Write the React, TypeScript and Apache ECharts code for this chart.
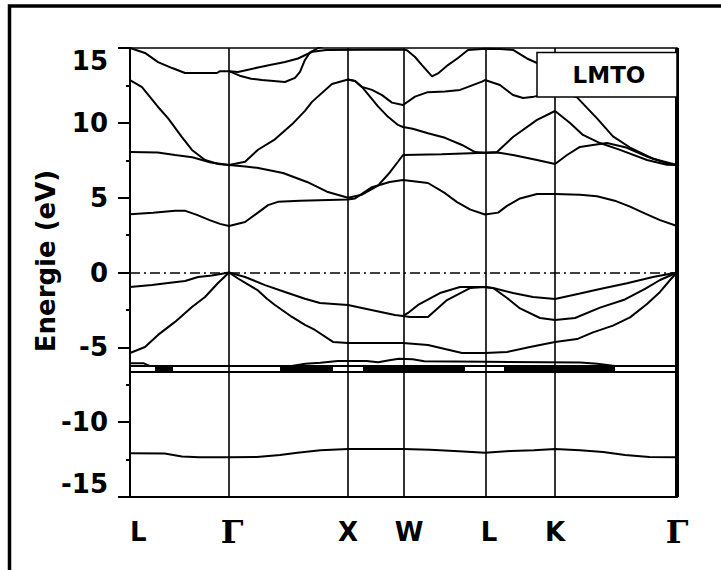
import { useEffect, useRef } from 'react';
import * as echarts from 'echarts';

// High-symmetry points along the path L–Γ–X–W–L–K–Γ (units of 2π/a)
const kPoints = [0, 0.858, 1.889, 2.366, 3.076, 3.683, 4.74];
const kLabels = ['L', 'Γ', 'X', 'W', 'L', 'K', 'Γ'];

// Energy axis ticks (eV)
const eMin = -15;
const eMax = 15;
const eStep = 5;

// Lowest (s-like) valence band
const bandS = [
  [0, -12.07], [0.3, -12.1], [0.45, -12.3], [0.6, -12.35], [0.858, -12.35], [1.1, -12.33],
  [1.3, -12.2], [1.45, -12.05], [1.65, -11.88], [1.889, -11.8], [2.366, -11.8], [2.6, -11.85],
  [2.85, -11.95], [3.076, -12.05], [3.3, -11.93], [3.5, -11.87], [3.683, -11.8], [3.9, -11.88],
  [4.1, -12.0], [4.29, -12.2], [4.5, -12.33], [4.74, -12.35],
];

// Narrow d-band manifold: upper and lower edges, upper band wiggles, filled stretches
const dUpper = [
  [0, -6.07], [0.12, -6.07], [0.17, -6.24], [1.4, -6.24], [1.52, -6.1], [1.65, -6.03],
  [1.8, -5.92], [2.05, -5.92], [2.15, -6.0], [2.26, -5.85], [2.33, -5.76], [2.45, -5.8],
  [2.55, -5.93], [3.076, -5.96], [3.9, -6.02], [4.05, -6.1], [4.2, -6.24], [4.74, -6.24],
];
const dTopEdge = [[0, -6.24], [4.74, -6.24]];
const dBottomEdge = [[0, -6.64], [4.74, -6.64]];
const dCenter = -6.44;
const dFilledRanges = [[0.217, 0.373], [1.3, 1.759], [2.019, 2.903], [3.241, 4.203]];

// Upper valence bands
const bandV3 = [
  [0, -5.38], [0.13, -4.98], [0.243, -4.17], [0.39, -3.3], [0.537, -2.3], [0.65, -1.64],
  [0.763, -0.7], [0.858, 0], [0.936, -0.4], [1.109, -1.2], [1.187, -1.75], [1.256, -2.17],
  [1.404, -2.97], [1.516, -3.5], [1.603, -3.84], [1.759, -4.64], [1.889, -4.71], [2.366, -4.71],
  [2.582, -4.84], [2.877, -5.38], [3.076, -5.38], [3.267, -5.31], [3.466, -4.98], [3.683, -4.64],
  [3.874, -4.45], [4.012, -4.0], [4.185, -3.55], [4.333, -3.0], [4.48, -2.1], [4.593, -1.3],
  [4.697, -0.35], [4.74, 0],
];
const bandV2 = [
  [0, -0.97], [0.19, -0.84], [0.33, -0.7], [0.477, -0.57], [0.59, -0.3], [0.71, -0.2],
  [0.858, 0], [0.997, -0.3], [1.17, -0.84], [1.343, -1.3], [1.516, -1.75], [1.646, -2.04],
  [1.889, -2.17], [2.01, -2.37], [2.296, -2.84], [2.366, -2.9], [2.426, -2.97], [2.582, -2.97],
  [2.747, -1.84], [2.946, -1.04], [3.076, -0.97], [3.15, -1.05], [3.267, -1.7], [3.38, -2.4],
  [3.553, -3.04], [3.683, -3.17], [3.856, -3.04], [4.073, -2.35], [4.289, -1.8], [4.463, -1.1],
  [4.593, -0.5], [4.74, 0],
];
const bandV1 = [
  [2.366, -2.9], [2.409, -2.7], [2.496, -2.17], [2.686, -1.37], [2.86, -0.97], [3.076, -0.97],
  [3.146, -1.04], [3.319, -1.37], [3.492, -1.64], [3.683, -1.77], [3.899, -1.4], [4.073, -1.1],
  [4.307, -0.72], [4.532, -0.3], [4.74, 0],
];

// Conduction bands
const bandC1 = [
  [0, 3.9], [0.2, 4.0], [0.39, 4.12], [0.48, 4.12], [0.58, 3.85], [0.69, 3.5], [0.78, 3.25],
  [0.858, 3.11], [0.997, 3.37], [1.109, 4.0], [1.196, 4.5], [1.282, 4.72], [1.473, 4.8],
  [1.889, 4.88], [1.95, 4.95], [2.097, 5.7], [2.25, 6.05], [2.366, 6.18], [2.582, 5.98],
  [2.73, 5.3], [2.834, 4.7], [2.95, 4.2], [3.076, 3.88], [3.19, 4.0], [3.267, 4.45], [3.38, 4.95],
  [3.527, 5.25], [3.683, 5.25], [3.9, 5.2], [4.047, 5.1], [4.2, 4.8], [4.333, 4.4], [4.46, 3.95],
  [4.593, 3.5], [4.74, 3.11],
];
const bandC2 = [
  [0, 8.05], [0.24, 8.02], [0.39, 7.85], [0.54, 7.7], [0.7, 7.35], [0.858, 7.18], [1.0, 7.08],
  [1.1, 7.0], [1.326, 6.65], [1.534, 6.05], [1.707, 5.4], [1.889, 5.0], [2.01, 5.2], [2.149, 5.8],
  [2.253, 6.7], [2.322, 7.4], [2.366, 7.85], [2.7, 7.9], [3.076, 8.0], [3.2, 8.0], [3.319, 7.85],
  [3.527, 7.52], [3.683, 7.25], [3.787, 7.85], [3.899, 8.39], [4.012, 8.52], [4.133, 8.65],
  [4.3, 8.35], [4.48, 7.75], [4.65, 7.3], [4.74, 7.18],
];
const bandC3 = [
  [0, 12.86], [0.104, 12.39], [0.243, 11.06], [0.329, 10.32], [0.45, 9.05], [0.537, 8.19],
  [0.65, 7.52], [0.763, 7.25], [0.858, 7.18], [0.997, 7.4], [1.109, 8.2], [1.256, 8.9],
  [1.404, 9.9], [1.516, 10.8], [1.577, 11.4], [1.75, 12.6], [1.889, 12.9], [1.95, 12.8],
  [2.01, 12.4], [2.097, 12.2], [2.184, 11.85], [2.27, 11.35], [2.366, 11.19], [2.47, 11.75],
  [2.58, 12.05], [2.73, 12.1], [2.86, 12.2], [2.93, 12.4], [3.05, 12.75], [3.076, 12.86],
  [3.206, 12.53], [3.319, 11.86], [3.406, 11.66], [3.5, 11.75], [3.6, 11.9], [3.683, 11.95],
  [3.8, 11.9], [3.874, 11.7], [3.96, 11.0], [4.047, 10.3], [4.185, 9.1], [4.333, 8.35],
  [4.532, 7.6], [4.74, 7.18],
];
const bandC4 = [
  [1.889, 12.9], [1.95, 12.8], [2.01, 12.4], [2.149, 11.1], [2.236, 10.4], [2.322, 9.86],
  [2.366, 9.72], [2.45, 9.6], [2.582, 9.3], [2.73, 9.0], [2.877, 8.52], [2.99, 8.05], [3.076, 8.0],
  [3.18, 8.05], [3.319, 9.05], [3.527, 10.2], [3.683, 10.79], [3.813, 9.99], [3.925, 9.19],
  [4.073, 8.65], [4.246, 8.19], [4.48, 7.52], [4.653, 7.2], [4.74, 7.18],
];
const bandC5 = [
  [0, 15], [0.13, 14.67], [0.243, 14.06], [0.365, 13.66], [0.477, 13.33], [0.754, 13.33],
  [0.78, 13.45], [0.858, 13.45], [0.936, 13.4], [1.109, 13.7], [1.213, 13.86], [1.343, 14.06],
  [1.456, 14.3], [1.58, 14.75], [1.7, 14.87], [2.366, 14.9], [2.4, 14.85], [2.47, 14.4],
  [2.53, 13.86], [2.617, 13.1], [2.669, 13.3], [2.755, 13.86], [2.842, 14.33], [2.929, 14.87],
  [3.076, 14.95], [3.206, 14.93], [3.319, 14.87], [3.44, 14.3], [3.527, 14.0], [3.683, 13.7],
  [4.2, 13.5], [4.74, 13.45],
];
const bandC6 = [
  [0.858, 13.45], [0.95, 13.15], [1.05, 12.95], [1.144, 12.86], [1.343, 12.73], [1.43, 13.0],
  [1.473, 13.4], [1.516, 14.2], [1.56, 14.7], [1.63, 15.0], [1.7, 15.2],
];

const bands = [bandS, dUpper, dTopEdge, dBottomEdge, bandV3, bandV2, bandV1, bandC1, bandC2, bandC3, bandC4, bandC5, bandC6];

const methodLabel = 'LMTO';
const axisTitle = 'Energie (eV)';

const SANS = 'DejaVu Sans';
const SERIF = 'DejaVu Serif';

export default function App() {
  const ref = useRef<HTMLDivElement>(null);

  useEffect(() => {
    if (!ref.current) return;
    const chart = echarts.init(ref.current, undefined, { renderer: 'svg' });

    const lineSeries = (data: number[][], width = 2) => ({
      type: 'line',
      data,
      showSymbol: false,
      symbol: 'none',
      silent: true,
      z: 3,
      lineStyle: { color: '#000', width },
    });

    const series: any[] = bands.map((b) => lineSeries(b));
    dFilledRanges.forEach(([a, b]) => {
      series.push({ ...lineSeries([[a, dCenter], [b, dCenter]], 7.5), z: 2 });
    });

    // symmetry-point verticals, right frame and Fermi level
    series.push({
      type: 'line',
      data: [],
      silent: true,
      markLine: {
        silent: true,
        symbol: ['none', 'none'],
        label: { show: false },
        animation: false,
        lineStyle: { color: '#000', width: 1.6, type: 'solid' },
        data: [
          ...kPoints.slice(1, kPoints.length - 1).map((k) => ({ xAxis: k })),
          { xAxis: kPoints[kPoints.length - 1], lineStyle: { color: '#000', width: 4, type: 'solid' } },
          { yAxis: 0, lineStyle: { color: '#000', width: 1.5, type: [10, 4, 2, 4] } },
        ],
      },
    });

    // small nudges so each letter sits where it is printed under its line
    const labelShift: Record<string, number[]> = {
      '1': [0, 0, 0, 6],
      '3': [0, 0, 0, 12],
      '4': [0, 0, 0, 8],
    };

    const labelFor = (v: number) => {
      const i = kPoints.findIndex((k) => Math.abs(k - v) < 1e-6);
      const t = i >= 0 ? kLabels[i] : '';
      const key = labelShift[String(i)] ? `${t === 'Γ' ? 'g' : 's'}${i}` : t === 'Γ' ? 'g' : 's';
      return `{${key}|${t}}`;
    };

    const sStyle = { fontFamily: SANS, fontWeight: 'bold', fontSize: 26, color: '#000', lineHeight: 32 };
    const gStyle = { fontFamily: SERIF, fontWeight: 'bold', fontSize: 32, color: '#000', lineHeight: 32 };
    const rich: Record<string, any> = { s: sStyle, g: gStyle };
    Object.keys(labelShift).forEach((i) => {
      const t = kLabels[Number(i)];
      rich[`${t === 'Γ' ? 'g' : 's'}${i}`] = { ...(t === 'Γ' ? gStyle : sStyle), padding: labelShift[i] };
    });

    chart.setOption({
      animation: false,
      grid: { left: 130, top: 48, right: 44, bottom: 73, show: true, borderColor: '#000', borderWidth: 1.5, backgroundColor: 'transparent' },
      xAxis: {
        type: 'value',
        min: kPoints[0],
        max: kPoints[kPoints.length - 1],
        axisLine: { onZero: false, lineStyle: { color: '#000', width: 2 } },
        axisTick: { show: false },
        splitLine: { show: false },
        axisLabel: {
          customValues: kPoints,
          formatter: (v: number) => labelFor(v),
          margin: 19,
          alignMinLabel: 'left',
          rich,
        },
      },
      yAxis: {
        type: 'value',
        min: eMin,
        max: eMax,
        interval: eStep,
        axisLine: { onZero: false, lineStyle: { color: '#000', width: 2 } },
        axisTick: { show: true, length: 12, lineStyle: { color: '#000', width: 2 } },
        minorTick: { show: true, splitNumber: 2, length: 4, lineStyle: { color: '#000', width: 2 } },
        splitLine: { show: false },
        axisLabel: {
          fontFamily: SANS,
          fontWeight: 'bold',
          fontSize: 26,
          color: '#000',
          margin: 22,
          verticalAlignMaxLabel: 'top',
          verticalAlignMinLabel: 'bottom',
        },
      },
      graphic: [
        {
          type: 'polyline',
          z: 100,
          shape: { points: [[9.5, 570], [9.5, 6], [721, 6]] },
          style: { stroke: '#000', lineWidth: 3.5, fill: null },
        },
        {
          type: 'text',
          z: 100,
          x: 46,
          y: 261,
          rotation: Math.PI / 2,
          style: {
            text: axisTitle,
            fontFamily: SANS,
            fontWeight: 'bold',
            fontSize: 26,
            fill: '#000',
            align: 'center',
            verticalAlign: 'middle',
            textAlign: 'center',
            textVerticalAlign: 'middle',
          },
        },
        {
          type: 'rect',
          z: 100,
          shape: { x: 537, y: 52.5, width: 140, height: 44.5 },
          style: { fill: '#fff', stroke: '#000', lineWidth: 1.5 },
        },
        {
          type: 'text',
          z: 101,
          x: 609,
          y: 75,
          style: {
            text: methodLabel,
            fontFamily: SANS,
            fontWeight: 'bold',
            fontSize: 23,
            fill: '#000',
            align: 'center',
            verticalAlign: 'middle',
            textAlign: 'center',
            textVerticalAlign: 'middle',
          },
        },
      ],
      series,
    });

    return () => chart.dispose();
  }, []);

  return (
    <div
      ref={ref}
      style={{ position: 'fixed', left: 0, top: 0, width: 721, height: 570, background: '#fff' }}
    />
  );
}
